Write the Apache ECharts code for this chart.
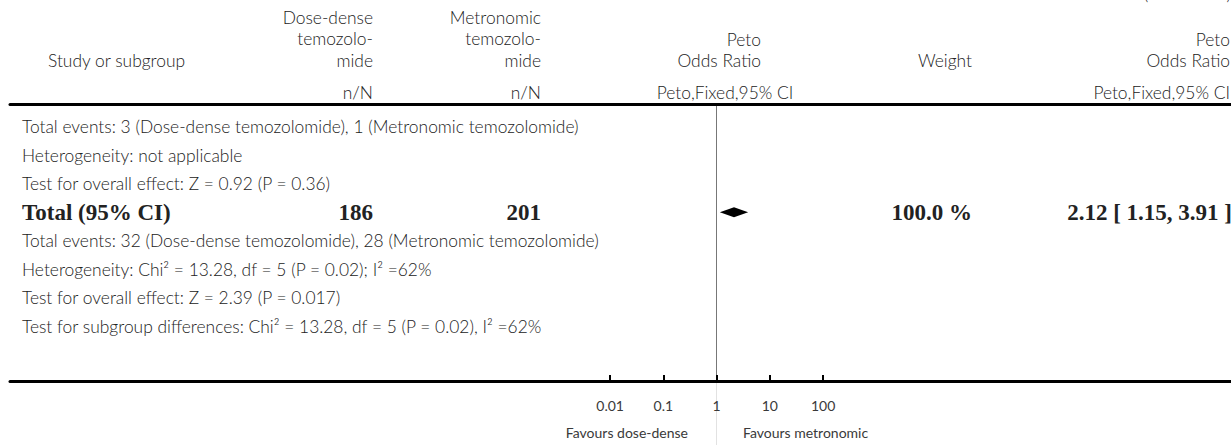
<!DOCTYPE html>
<html><head><meta charset="utf-8">
<script src="https://cdn.jsdelivr.net/npm/echarts@6/dist/echarts.min.js"></script>
<style>html,body{margin:0;padding:0;background:#fff}#c{width:1231px;height:445px}</style>
</head><body><div id="c"></div>
<script>
// ---- data ----
const tickValues = [0.01, 0.1, 1, 10, 100];
const tickLabels = ['0.01', '0.1', '1', '10', '100'];
const axisLogMin = -13.27;   // log10 of axis left end
const axisLogMax = 9.66;     // log10 of axis right end
const pooledOR = 2.12;
const pooledLo = 1.15;
const pooledHi = 3.91;
const totalRowIndex = 3;
const rowTexts = [
  'Total events: 3 (Dose-dense temozolomide), 1 (Metronomic temozolomide)',
  'Heterogeneity: not applicable',
  'Test for overall effect: Z = 0.92 (P = 0.36)',
  null,
  'Total events: 32 (Dose-dense temozolomide), 28 (Metronomic temozolomide)',
  'Heterogeneity: Chi\u00B2 = 13.28, df = 5 (P = 0.02); I\u00B2 =62%',
  'Test for overall effect: Z = 2.39 (P = 0.017)',
  'Test for subgroup differences: Chi\u00B2 = 13.28, df = 5 (P = 0.02), I\u00B2 =62%'
];
const totalLabel = 'Total (95% CI)';
const totalN1 = '186';
const totalN2 = '201';
const totalWeight = '100.0 %';
const totalCI = '2.12 [ 1.15, 3.91 ]';
const favoursLeft = 'Favours dose-dense';
const favoursRight = 'Favours metronomic';

// ---- chart ----
const SANS = 'Lato';
const SERIF = '"Liberation Serif", "Times New Roman", serif';
const TXT = '#222';
const SMALL = '#3a3a3a';
const chart = echarts.init(document.getElementById('c'), null, {renderer: 'svg'});
const logTicks = tickValues.map(v => Math.log10(v));

chart.setOption({
  animation: false,
  backgroundColor: '#fff',
  grid: [
    {left: 10, right: 0, top: 104, bottom: 64},
    {left: 10, right: 0, top: 381, bottom: 0}
  ],
  xAxis: [
    {
      gridIndex: 0, type: 'value', position: 'bottom', min: axisLogMin, max: axisLogMax,
      axisLine: {show: true, onZero: false, lineStyle: {color: '#000', width: 3}},
      axisTick: {show: true, inside: true, length: 6, customValues: logTicks, lineStyle: {color: '#000', width: 2}},
      axisLabel: {show: true, customValues: logTicks, margin: 17, color: SMALL, fontFamily: SANS, fontWeight: 'normal', fontSize: 14,
        formatter: v => { const i = logTicks.findIndex(t => Math.abs(t - v) < 1e-9); return i >= 0 ? tickLabels[i] : ''; }},
      splitLine: {show: false}
    },
    {
      gridIndex: 0, type: 'value', position: 'top', min: axisLogMin, max: axisLogMax,
      axisLine: {show: true, onZero: false, lineStyle: {color: '#000', width: 3}},
      axisTick: {show: false}, axisLabel: {show: false}, splitLine: {show: false}
    },
    {
      gridIndex: 1, type: 'value', min: axisLogMin, max: axisLogMax,
      axisLine: {show: false}, axisTick: {show: false}, axisLabel: {show: false}, splitLine: {show: false}
    }
  ],
  yAxis: [
    {
      gridIndex: 0, type: 'value', min: -0.8, max: 8.92, inverse: true,
      axisLine: {show: true, onZero: true, onZeroAxisIndex: 0, lineStyle: {color: '#777', width: 1}},
      axisTick: {show: false}, axisLabel: {show: false}, splitLine: {show: false}
    },
    {
      gridIndex: 1, type: 'value', min: 0, max: 1,
      axisLine: {show: true, onZero: true, onZeroAxisIndex: 2, lineStyle: {color: '#e2e2e2', width: 1}},
      axisTick: {show: false}, axisLabel: {show: false}, splitLine: {show: false}
    }
  ],
  series: [{
    type: 'custom',
    xAxisIndex: 0, yAxisIndex: 0,
    data: [[Math.log10(pooledOR), Math.log10(pooledLo), Math.log10(pooledHi), totalRowIndex]],
    renderItem: function (params, api) {
      const row = api.value(3);
      const c = api.coord([api.value(0), row]);
      const lo = api.coord([api.value(1), row]);
      const hi = api.coord([api.value(2), row]);
      const h = 5;
      return {
        type: 'polygon',
        shape: {points: [[lo[0], c[1]], [c[0], c[1] - h], [hi[0], c[1]], [c[0], c[1] + h]]},
        style: {fill: '#000', stroke: 'none'}
      };
    }
  }]
});

function txt(text, x, y, opts) {
  opts = opts || {};
  const size = opts.size || 17.4;
  const family = opts.family || SANS;
  const weight = opts.weight || '300';
  return {
    type: 'text', silent: true, z: 10,
    style: {
      text: text, x: x, y: y,
      font: weight + ' ' + size + 'px ' + family,
      fill: opts.color || TXT,
      textAlign: opts.align || 'left', align: opts.align || 'left',
      textVerticalAlign: 'middle', verticalAlign: 'middle'
    }
  };
}
const rowY = i => chart.convertToPixel({gridIndex: 0}, [0, i])[1];

const g = [];
// header
g.push(txt('(Continued)', 1231, -7, {align: 'right'}));
g.push(txt('Study or subgroup', 48, 60));
g.push(txt('Dose-dense', 373, 17, {align: 'right'}));
g.push(txt('temozolo-', 373, 38, {align: 'right'}));
g.push(txt('mide', 373, 60, {align: 'right'}));
g.push(txt('Metronomic', 541, 17, {align: 'right'}));
g.push(txt('temozolo-', 541, 38, {align: 'right'}));
g.push(txt('mide', 541, 60, {align: 'right'}));
g.push(txt('Peto', 761, 39, {align: 'right'}));
g.push(txt('Odds Ratio', 761, 60, {align: 'right'}));
g.push(txt('Weight', 945, 60, {align: 'center'}));
g.push(txt('Peto', 1230, 39, {align: 'right'}));
g.push(txt('Odds Ratio', 1230, 60, {align: 'right'}));
g.push(txt('n/N', 373, 92, {align: 'right'}));
g.push(txt('n/N', 541, 92, {align: 'right'}));
g.push(txt('Peto,Fixed,95% CI', 725, 92, {align: 'center'}));
g.push(txt('Peto,Fixed,95% CI', 1230, 92, {align: 'right'}));
// body rows
rowTexts.forEach((t, i) => { if (t) g.push(txt(t, 22, rowY(i))); });
const ty = rowY(totalRowIndex);
const bold = {family: SERIF, weight: 'bold', size: 23};
g.push(txt(totalLabel, 22, ty, bold));
g.push(txt(totalN1, 373, ty, Object.assign({align: 'right'}, bold)));
g.push(txt(totalN2, 541, ty, Object.assign({align: 'right'}, bold)));
g.push(txt(totalWeight, 972, ty, Object.assign({align: 'right'}, bold)));
g.push(txt(totalCI, 1232, ty, Object.assign({align: 'right'}, bold)));
// favours labels
g.push(txt(favoursLeft, 688, 432, {align: 'right', size: 14, weight: 'normal', color: SMALL}));
g.push(txt(favoursRight, 743, 432, {align: 'left', size: 14, weight: 'normal', color: SMALL}));

chart.setOption({graphic: {elements: g}});
</script>
</body></html>
